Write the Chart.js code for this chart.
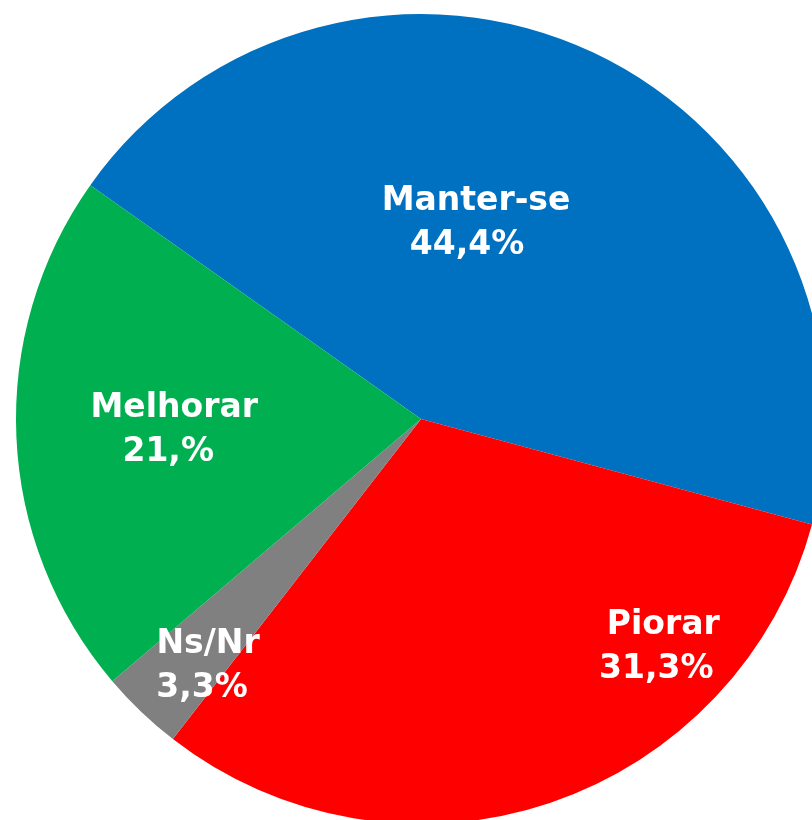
<!DOCTYPE html>
<html>
<head>
<meta charset="utf-8">
<script src="https://cdn.jsdelivr.net/npm/chart.js@4/dist/chart.umd.min.js"></script>
<style>
  html, body { margin: 0; padding: 0; background: #fff; overflow: hidden; width: 812px; height: 820px; }
  #chart { position: absolute; left: 0; top: 0; }
</style>
</head>
<body>
<canvas id="chart" width="842" height="838"></canvas>
<script>
// dados
const categories = ["Manter-se", "Piorar", "Ns/Nr", "Melhorar"];
const values = [44.4, 31.3, 3.3, 21.0];
const valueLabels = ["44,4%", "31,3%", "3,3%", "21,%"];
const colors = ["#0070C0", "#FF0000", "#808080", "#00B050"];

// rótulos dentro das fatias (ângulo em graus, fração do raio)
const labelPlugin = {
  id: "sliceLabels",
  afterDatasetsDraw(chart, args, opts) {
    const ctx = chart.ctx;
    const arcs = chart.getDatasetMeta(0).data;
    ctx.save();
    ctx.fillStyle = "#fff";
    ctx.font = "bold 33px 'DejaVu Sans', Verdana, sans-serif";
    ctx.textAlign = "center";
    ctx.textBaseline = "alphabetic";
    arcs.forEach((arc, i) => {
      const a = opts.anchors[i];
      const ang = a.angle * Math.PI / 180;
      const cx = arc.x + Math.cos(ang) * arc.outerRadius * a.r;
      const cy = arc.y + Math.sin(ang) * arc.outerRadius * a.r;
      ctx.fillText(categories[i], cx + a.dx1, cy - 9);
      ctx.fillText(valueLabels[i], cx + a.dx2, cy + 35);
    });
    ctx.restore();
  }
};

new Chart(document.getElementById("chart"), {
  type: "pie",
  data: {
    labels: categories,
    datasets: [{
      data: values,
      backgroundColor: colors,
      borderWidth: 0
    }]
  },
  options: {
    responsive: false,
    animation: false,
    devicePixelRatio: 1,
    rotation: -54.74,
    layout: { padding: { left: 16, right: 16, top: 14, bottom: 14 } },
    plugins: {
      legend: { display: false },
      tooltip: { enabled: false },
      sliceLabels: {
        anchors: [
          { angle: -75.7, r: 0.51, dx1: 4, dx2: -5 },
          { angle: 43.1, r: 0.809, dx1: 3, dx2: -4 },
          { angle: 131.6, r: 0.803, dx1: 3, dx2: -3 },
          { angle: 178.4, r: 0.617, dx1: 3, dx2: -3 }
        ]
      }
    }
  },
  plugins: [labelPlugin]
});
</script>
</body>
</html>
